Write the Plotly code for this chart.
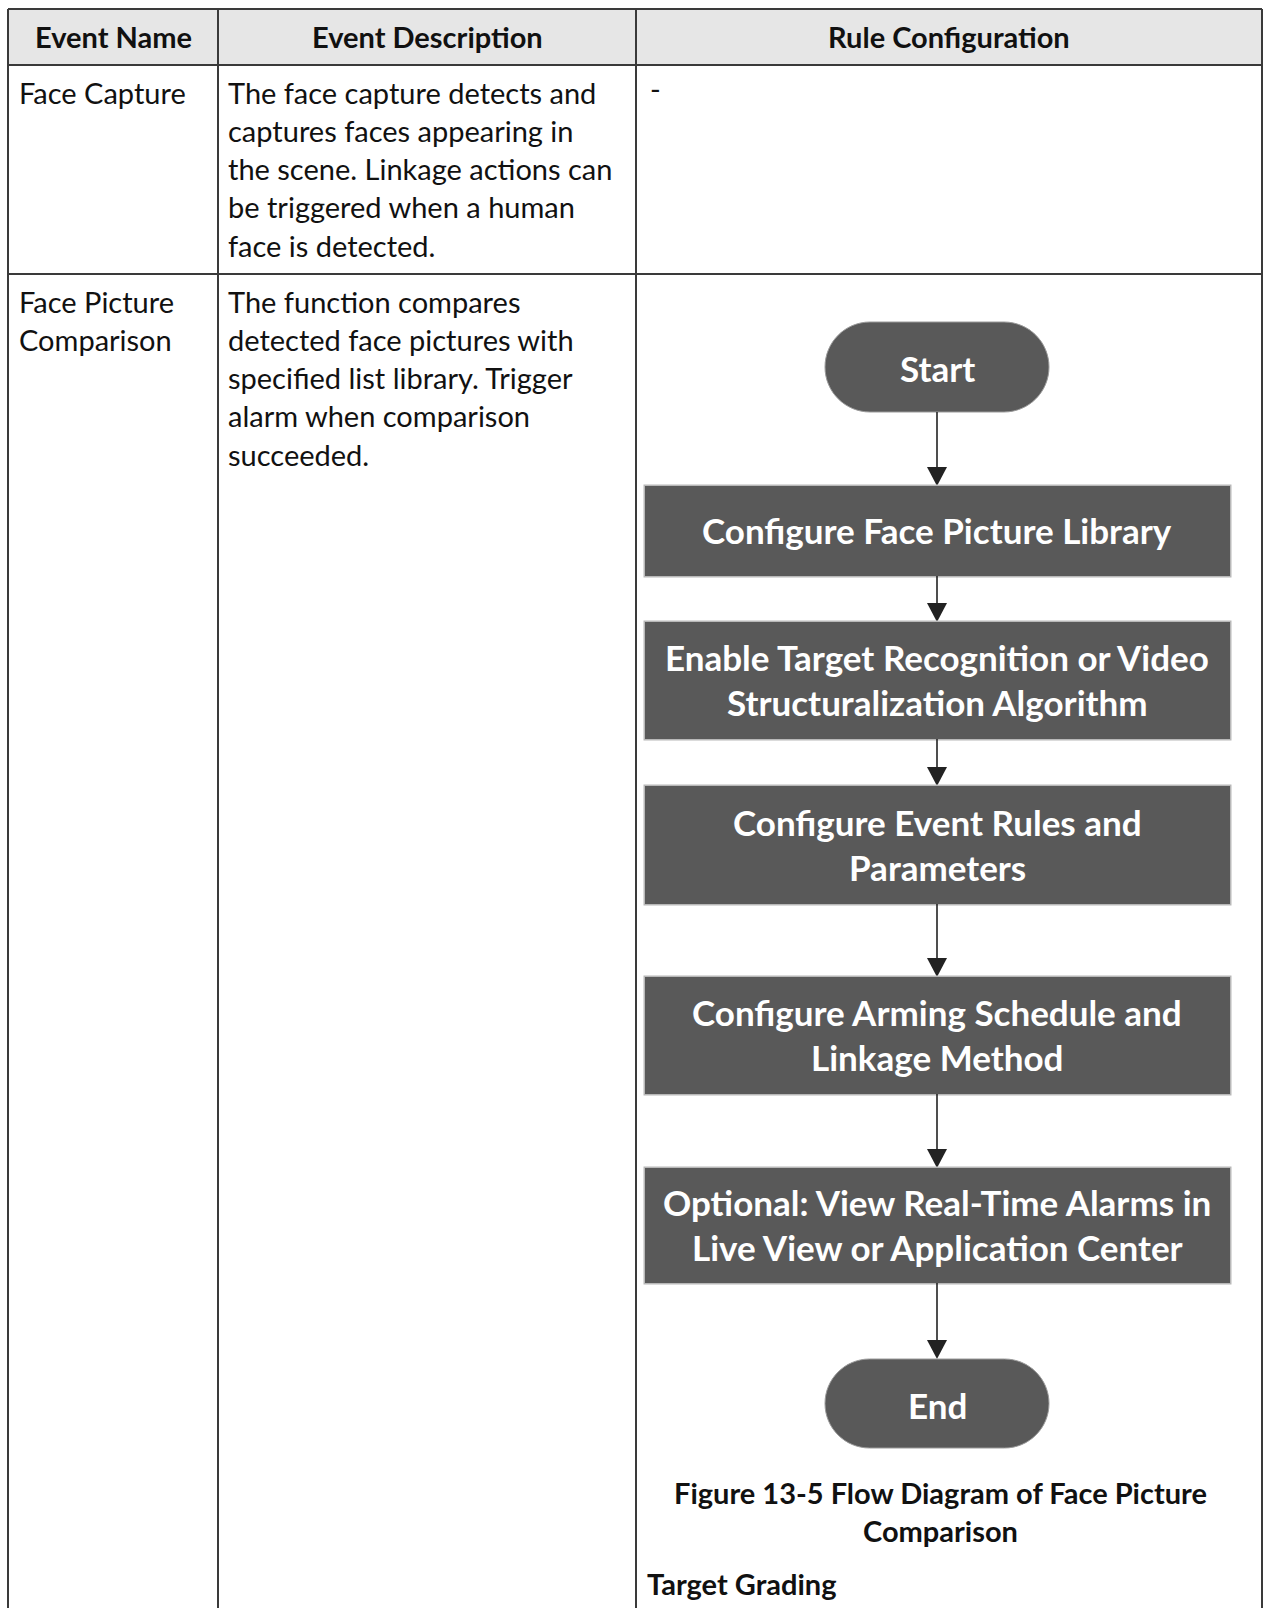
import plotly.graph_objects as go

# ---------------- data ----------------
headers = ["Event Name", "Event Description", "Rule Configuration"]
event_names = [["Face Capture"], ["Face Picture", "Comparison"]]
event_desc = [
    ["The face capture detects and", "captures faces appearing in",
     "the scene. Linkage actions can", "be triggered when a human",
     "face is detected."],
    ["The function compares", "detected face pictures with",
     "specified list library. Trigger", "alarm when comparison",
     "succeeded."],
]
rule_row1 = "-"
flow_start = "Start"
flow_steps = [
    ["Configure Face Picture Library"],
    ["Enable Target Recognition or Video", "Structuralization Algorithm"],
    ["Configure Event Rules and", "Parameters"],
    ["Configure Arming Schedule and", "Linkage Method"],
    ["Optional: View Real-Time Alarms in", "Live View or Application Center"],
]
flow_end = "End"
caption = ["Figure 13-5 Flow Diagram of Face Picture", "Comparison"]
sub_heading = "Target Grading"

# ---------------- layout constants ----------------
W, H = 1264, 1608
X_COLS = [8, 218, 636, 1262]
Y_TOP, Y_HEAD, Y_ROW1 = 9, 65, 274
LINE_H = 38.3
BORDER = "#3a3a3a"
HEAD_FILL = "#e6e6e6"
BOX_FILL = "#595959"
FONT = "Lato"
TXT_SIZE = 29

CX = 937
OVAL_X = (825, 1049)
BOX_X = (645, 1230)
START_Y = (322, 412)
STEP_Y = [(486, 576), (622, 739), (786, 904), (977, 1094), (1168, 1283)]
END_Y = (1359, 1448)

shapes = []
annotations = []

def add_line(x0, y0, x1, y1, color=BORDER, width=1.6):
    shapes.append(dict(type="line", x0=x0, y0=y0, x1=x1, y1=y1,
                       xref="x", yref="y", line=dict(color=color, width=width)))

def add_text(x, y, text, size=TXT_SIZE, bold=False, color="#111111",
             xanchor="left"):
    t = f"<b>{text}</b>" if bold else text
    annotations.append(dict(x=x, y=y, xref="x", yref="y", text=t,
                            showarrow=False, xanchor=xanchor, yanchor="middle",
                            font=dict(family=FONT, size=size, color=color)))

# header background
shapes.append(dict(type="rect", x0=X_COLS[0], x1=X_COLS[-1], y0=Y_TOP, y1=Y_HEAD,
                   fillcolor=HEAD_FILL, line=dict(width=0), layer="below"))
# table borders
for yy in (Y_TOP, Y_HEAD, Y_ROW1):
    add_line(X_COLS[0], yy, X_COLS[-1], yy, width=2)
for xx in X_COLS:
    add_line(xx, Y_TOP, xx, H + 5, width=2)

# header text
for i, h in enumerate(headers):
    add_text((X_COLS[i] + X_COLS[i + 1]) / 2, 36, h, bold=True, xanchor="center")

# row texts
row_first = [92, 301]
for r in range(2):
    for k, ln in enumerate(event_names[r]):
        add_text(17, row_first[r] + k * LINE_H, ln)
    for k, ln in enumerate(event_desc[r]):
        add_text(226, row_first[r] + k * LINE_H, ln)
add_text(648, row_first[0] - 4, rule_row1)

# ---------------- flowchart ----------------
def stadium(x0, x1, y0, y1):
    r = (y1 - y0) / 2
    k = 0.5523 * r
    cy = (y0 + y1) / 2
    p = (f"M {x0 + r},{y0} L {x1 - r},{y0} "
         f"C {x1 - r + k},{y0} {x1},{cy - k} {x1},{cy} "
         f"C {x1},{cy + k} {x1 - r + k},{y1} {x1 - r},{y1} "
         f"L {x0 + r},{y1} "
         f"C {x0 + r - k},{y1} {x0},{cy + k} {x0},{cy} "
         f"C {x0},{cy - k} {x0 + r - k},{y0} {x0 + r},{y0} Z")
    return p

def add_node_rect(x0, x1, y0, y1):
    shapes.append(dict(type="rect", x0=x0 - 1.5, x1=x1 + 1.5, y0=y0 - 1.5, y1=y1 + 1.5,
                       fillcolor="#b8b8b8", line=dict(width=0)))
    shapes.append(dict(type="rect", x0=x0, x1=x1, y0=y0, y1=y1,
                       fillcolor=BOX_FILL, line=dict(width=0)))

def add_arrow(y_from, y_to):
    head = 19
    add_line(CX, y_from, CX, y_to - head + 2, color="#222222", width=1.6)
    shapes.append(dict(type="path",
                       path=f"M {CX - 10},{y_to - head} L {CX + 10},{y_to - head} L {CX},{y_to} Z",
                       fillcolor="#222222", line=dict(width=0)))

FLOW_SIZE = 35
FLOW_LINE = 45

shapes.append(dict(type="path", path=stadium(OVAL_X[0], OVAL_X[1], *START_Y),
                   fillcolor=BOX_FILL, line=dict(color="#9a9a9a", width=1)))
add_text(CX, (START_Y[0] + START_Y[1]) / 2 + 1, flow_start, size=FLOW_SIZE,
         bold=True, color="white", xanchor="center")

prev_bottom = START_Y[1]
for (y0, y1), lines in zip(STEP_Y, flow_steps):
    add_arrow(prev_bottom, y0)
    add_node_rect(BOX_X[0], BOX_X[1], y0, y1)
    cy = (y0 + y1) / 2
    n = len(lines)
    for k, ln in enumerate(lines):
        add_text(CX, cy + (k - (n - 1) / 2) * FLOW_LINE - 1, ln, size=FLOW_SIZE,
                 bold=True, color="white", xanchor="center")
    prev_bottom = y1

add_arrow(prev_bottom, END_Y[0])
shapes.append(dict(type="path", path=stadium(OVAL_X[0], OVAL_X[1], *END_Y),
                   fillcolor=BOX_FILL, line=dict(color="#9a9a9a", width=1)))
add_text(CX, (END_Y[0] + END_Y[1]) / 2 + 1, flow_end, size=FLOW_SIZE,
         bold=True, color="white", xanchor="center")

for k, ln in enumerate(caption):
    add_text(CX + 3, 1492 + k * LINE_H, ln, bold=True, xanchor="center")
add_text(645, 1583, sub_heading, bold=True)

fig = go.Figure()
fig.update_layout(
    width=W, height=H,
    margin=dict(l=0, r=0, t=0, b=0),
    paper_bgcolor="white", plot_bgcolor="white",
    xaxis=dict(range=[0, W], visible=False, fixedrange=True),
    yaxis=dict(range=[H, 0], visible=False, fixedrange=True),
    shapes=shapes, annotations=annotations,
    showlegend=False,
)
fig.write_html(
    "out.html",
    config={"displayModeBar": False},
    post_script="document.body.style.margin='0';document.body.style.overflow='hidden';",
)
